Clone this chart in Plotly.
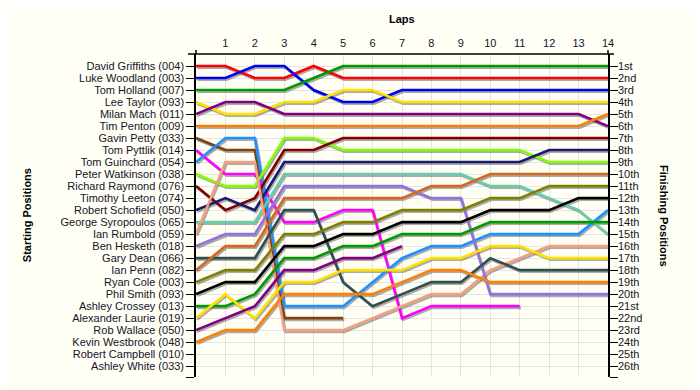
import plotly.graph_objects as go

# ---------------- data ----------------
laps = list(range(0, 15))
lap_ticks = list(range(1, 15))

start_labels = [
    "David Griffiths (004)", "Luke Woodland (003)", "Tom Holland (007)", "Lee Taylor (093)",
    "Milan Mach (011)", "Tim Penton (009)", "Gavin Petty (033)", "Tom Pyttlik (014)",
    "Tom Guinchard (054)", "Peter Watkinson (038)", "Richard Raymond (076)", "Timothy Leeton (074)",
    "Robert Schofield (050)", "George Syropoulos (065)", "Ian Rumbold (059)", "Ben Hesketh (018)",
    "Gary Dean (066)", "Ian Penn (082)", "Ryan Cole (003)", "Phil Smith (093)",
    "Ashley Crossey (013)", "Alexander Laurie (019)", "Rob Wallace (050)", "Kevin Westbrook (048)",
    "Robert Campbell (010)", "Ashley White (033)",
]
finish_labels = [
    "1st", "2nd", "3rd", "4th", "5th", "6th", "7th", "8th", "9th", "10th", "11th", "12th", "13th",
    "14th", "15th", "16th", "17th", "18th", "19th", "20th", "21st", "22nd", "23rd", "24th", "25th", "26th",
]

# position of each driver at the end of each lap (lap 0 = grid)
david_griffiths = [1, 1, 2, 2, 1, 2, 2, 2, 2, 2, 2, 2, 2, 2, 2]
luke_woodland = [2, 2, 1, 1, 3, 4, 4, 3, 3, 3, 3, 3, 3, 3, 3]
tom_holland = [3, 3, 3, 3, 2, 1, 1, 1, 1, 1, 1, 1, 1, 1, 1]
lee_taylor = [4, 5, 5, 4, 4, 3, 3, 4, 4, 4, 4, 4, 4, 4, 4]
milan_mach = [5, 4, 4, 5, 5, 5, 5, 5, 5, 5, 5, 5, 5, 5, 6]
tim_penton = [6, 6, 6, 6, 6, 6, 6, 6, 6, 6, 6, 6, 6, 6, 5]
gavin_petty = [7, 8, 8, 22, 22, 22]
tom_pyttlik = [8, 10, 10, 14, 14, 13, 13, 22, 21, 21, 21, 21]
tom_guinchard = [9, 7, 7, 21, 21, 21, 19, 17, 16, 16, 15, 15, 15, 15, 13]
peter_watkinson = [10, 11, 11, 7, 7, 8, 8, 8, 8, 8, 8, 8, 9, 9, 9]
richard_raymond = [11, 13, 12, 8, 8, 7, 7, 7, 7, 7, 7, 7, 7, 7, 7]
robert_schofield = [13, 12, 13, 9, 9, 9, 9, 9, 9, 9, 9, 9, 8, 8, 8]
george_syropoulos = [14, 14, 14, 10, 10, 10, 10, 10, 10, 10, 11, 11, 12, 13, 15]
ian_rumbold = [15, 9, 9, 23, 23, 23, 22, 21, 20, 20, 18, 17, 16, 16, 16]
ben_hesketh = [16, 15, 15, 11, 11, 11, 11, 11, 12, 12, 20, 20, 20, 20, 20]
gary_dean = [17, 17, 17, 13, 13, 19, 21, 20, 19, 19, 17, 18, 18, 18, 18]
ian_penn = [18, 16, 16, 12, 12, 12, 12, 12, 11, 11, 10, 10, 10, 10, 10]
ryan_cole = [19, 18, 18, 15, 15, 14, 14, 13, 13, 13, 12, 12, 11, 11, 11]
phil_smith = [20, 19, 19, 16, 16, 15, 15, 14, 14, 14, 13, 13, 13, 12, 12]
ashley_crossey = [21, 21, 20, 17, 17, 16, 16, 15, 15, 15, 14, 14, 14, 14, 14]
alexander_laurie = [22, 20, 22, 19, 19, 18, 18, 18, 17, 17, 16, 16, 17, 17, 17]
rob_wallace = [23, 22, 21, 18, 18, 17, 17, 16]
kevin_westbrook = [24, 23, 23, 20, 20, 20, 20, 19, 18, 18, 19, 19, 19, 19, 19]

drivers = [
    ("David Griffiths", david_griffiths, "#ff0000"),
    ("Luke Woodland", luke_woodland, "#0000f0"),
    ("Tom Holland", tom_holland, "#009a00"),
    ("Lee Taylor", lee_taylor, "#ffe000"),
    ("Milan Mach", milan_mach, "#800080"),
    ("Tim Penton", tim_penton, "#ff8000"),
    ("Gavin Petty", gavin_petty, "#804010"),
    ("Tom Pyttlik", tom_pyttlik, "#ff00ff"),
    ("Tom Guinchard", tom_guinchard, "#1e90ff"),
    ("Peter Watkinson", peter_watkinson, "#80ff00"),
    ("Richard Raymond", richard_raymond, "#800000"),
    ("Robert Schofield", robert_schofield, "#191970"),
    ("George Syropoulos", george_syropoulos, "#66cdaa"),
    ("Ian Rumbold", ian_rumbold, "#f4a07e"),
    ("Ben Hesketh", ben_hesketh, "#9370db"),
    ("Gary Dean", gary_dean, "#2f4f4f"),
    ("Ian Penn", ian_penn, "#d2691e"),
    ("Ryan Cole", ryan_cole, "#808000"),
    ("Phil Smith", phil_smith, "#000000"),
    ("Ashley Crossey", ashley_crossey, "#009a00"),
    ("Alexander Laurie", alexander_laurie, "#ffe000"),
    ("Rob Wallace", rob_wallace, "#800080"),
    ("Kevin Westbrook", kevin_westbrook, "#ff8000"),
]

# ---------------- figure ----------------
BG = "#fffff6"
FONT = "Liberation Sans, Arial, sans-serif"
TXT = "#14142a"
fig = go.Figure()

# drop shadows (same data, nudged slightly right/down)
for name, pos, col in drivers:
    fig.add_trace(go.Scatter(
        x=[l + 0.04 for l in laps[:len(pos)]], y=[p + 0.14 for p in pos],
        mode="lines", line=dict(color="rgba(70,70,70,0.45)", width=2.6),
        hoverinfo="skip", showlegend=False))

for name, pos, col in drivers:
    fig.add_trace(go.Scatter(
        x=laps[:len(pos)], y=pos, mode="lines", name=name,
        line=dict(color=col, width=2.6),
        hoverinfo="skip", showlegend=False))

# invisible trace to anchor the right-hand axis
fig.add_trace(go.Scatter(x=[laps[0]], y=[1], yaxis="y2", mode="markers",
                         marker=dict(opacity=0), hoverinfo="skip", showlegend=False))

yr = [26.9, 0]
# page body has an 8px margin, so the figure is sized to fit the window
fig.update_layout(
    width=692, height=382,
    margin=dict(l=188, r=92, t=46, b=13),
    paper_bgcolor=BG, plot_bgcolor=BG,
    font=dict(family=FONT, size=11, color=TXT),
    xaxis=dict(range=[0, 14], side="top", tickvals=lap_ticks, ticktext=[str(v) for v in lap_ticks],
               showgrid=True, gridcolor="#e4e4e4", gridwidth=1, zeroline=False,
               showline=False, ticks="", ticklabelstandoff=4, tickfont=dict(size=11, color=TXT)),
    yaxis=dict(range=yr, tickvals=list(range(1, 27)) + [26.9], ticktext=start_labels + [""],
               showgrid=True, gridcolor="#e4e4e4", gridwidth=1, zeroline=False,
               showline=True, linecolor="#000000", linewidth=1.5,
               ticks="outside", ticklen=8, tickcolor="#000000", tickwidth=1,
               tickfont=dict(size=11, color=TXT)),
    yaxis2=dict(range=yr, overlaying="y", side="right",
                tickvals=list(range(1, 27)) + [26.9], ticktext=finish_labels + [""],
                showgrid=False, zeroline=False,
                showline=True, linecolor="#000000", linewidth=1.5,
                ticks="outside", ticklen=8, tickcolor="#000000", tickwidth=1,
                ticklabelstandoff=-2, tickfont=dict(size=11, color=TXT)),
    hovermode=False,
)

# top axis line, extending a little beyond the lap range
fig.add_shape(type="line", xref="paper", yref="paper", x0=-0.0194, x1=1.0146, y0=1, y1=1,
              line=dict(color="#000000", width=1.5))
for xp in (0, 1):
    fig.add_shape(type="line", xref="paper", yref="paper", x0=xp, x1=xp, y0=1, y1=1.0124,
                  line=dict(color="#000000", width=1.5))

fig.add_annotation(text="<b>Laps</b>", xref="paper", yref="paper", x=0.5, y=1.108,
                   showarrow=False, font=dict(size=11, color="#000000"), yanchor="middle")
fig.add_annotation(text="<b>Starting Positions</b>", xref="paper", yref="paper", x=-0.411, y=0.5,
                   xanchor="center", yanchor="middle",
                   textangle=-90, showarrow=False, font=dict(size=11, color="#000000"))
fig.add_annotation(text="<b>Finishing Positions</b>", xref="paper", yref="paper", x=1.137, y=0.5,
                   xanchor="center", yanchor="middle",
                   textangle=90, showarrow=False, font=dict(size=11, color="#000000"))

fig.write_html("out.html")
